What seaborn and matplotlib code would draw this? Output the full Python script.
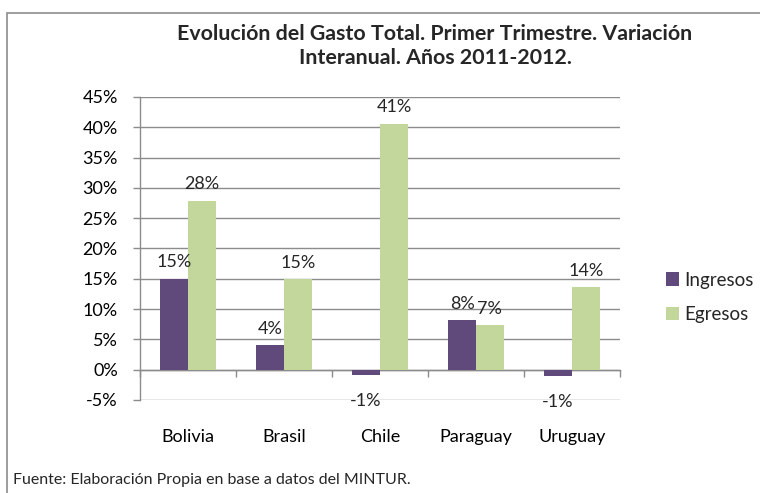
import matplotlib
matplotlib.use("Agg")
import matplotlib.pyplot as plt
import matplotlib.patches as mpatches
import seaborn as sns
import pandas as pd
from matplotlib.ticker import FuncFormatter, MultipleLocator

# ---- data ----
paises = ["Bolivia", "Brasil", "Chile", "Paraguay", "Uruguay"]
ingresos = [15.0, 4.0, -0.8, 8.2, -1.1]
egresos = [27.9, 14.9, 40.6, 7.4, 13.6]
series = ["Ingresos", "Egresos"]
colores = ["#604a7b", "#c3d69b"]
titulo = "Evolución del Gasto Total. Primer Trimestre. Variación\nInteranual. Años 2011-2012."
fuente = "Fuente: Elaboración Propia en base a datos del MINTUR."

df = pd.DataFrame({
    "Pais": paises * 2,
    "Serie": [series[0]] * len(paises) + [series[1]] * len(paises),
    "Valor": ingresos + egresos,
})

sns.set_theme(style="white")
plt.rcParams["font.family"] = ["Lato", "DejaVu Sans"]
W, H = 760, 493
fig = plt.figure(figsize=(W / 100, H / 100), dpi=100)
ax = fig.add_axes([140 / W, 1 - 400 / H, 480 / W, 303 / H])

sns.barplot(data=df, x="Pais", y="Valor", hue="Serie", palette=colores,
            width=0.58, saturation=1, ax=ax, legend=True, edgecolor="none")

grey = "#8c8c8c"
fs = 13
ax.set_ylim(-5, 45)
ax.set_xlim(-0.5, len(paises) - 0.5)
ax.yaxis.set_major_locator(MultipleLocator(5))
ax.yaxis.set_major_formatter(FuncFormatter(lambda v, p: f"{v:.0f}%"))
ax.grid(axis="y", color=grey, lw=1)
ax.set_axisbelow(True)
for s in ["top", "right", "bottom"]:
    ax.spines[s].set_visible(False)
ax.spines["left"].set_color(grey)
ax.spines["left"].set_linewidth(1)
ax.tick_params(axis="y", length=5, color=grey, width=1, labelsize=fs,
               labelcolor="black", pad=11, left=True)
ax.tick_params(axis="x", length=0, labelsize=fs, labelcolor="black", pad=21)
ax.set_xlabel("")
ax.set_ylabel("")

# zero axis with tick marks between categories
sec = ax.secondary_xaxis(5 / 50)
sec.set_xticks([i - 0.5 for i in range(len(paises) + 1)])
sec.set_xticklabels([])
sec.tick_params(length=5, color=grey, width=1, direction="out")
sec.spines["bottom"].set_color(grey)
sec.spines["bottom"].set_linewidth(1)

# data labels
for cont in ax.containers:
    vals = cont.datavalues
    pos = [f"{v:.0f}%" if v >= 0 else "" for v in vals]
    neg = [f"{v:.0f}%" if v < 0 else "" for v in vals]
    ax.bar_label(cont, labels=pos, padding=6, fontsize=fs)
    ax.bar_label(cont, labels=neg, padding=13, fontsize=fs)

# legend
handles, labels = ax.get_legend_handles_labels()
ax.legend(handles, labels, loc="center left",
          bbox_to_anchor=(666 / W, 1 - 297.5 / H), bbox_transform=fig.transFigure,
          frameon=False, fontsize=13.5, handlelength=0.7, handleheight=0.7,
          handletextpad=0.28, labelspacing=0.95, borderpad=0, borderaxespad=0)

# title and footer
fig.text(435 / W, 1 - 46 / H, titulo, ha="center", va="center",
         fontsize=15.4, fontweight="bold", linespacing=1.3)
fig.text(13 / W, 1 - 480 / H, fuente, ha="left", va="center", fontsize=11.5)

# chart-area border
fig.patches.append(mpatches.Rectangle((7 / W, -0.2), 1.2, 1.2 - 13 / H,
                                      transform=fig.transFigure, fill=False,
                                      edgecolor=grey, lw=1.2))

fig.savefig("out.png", dpi=100)
